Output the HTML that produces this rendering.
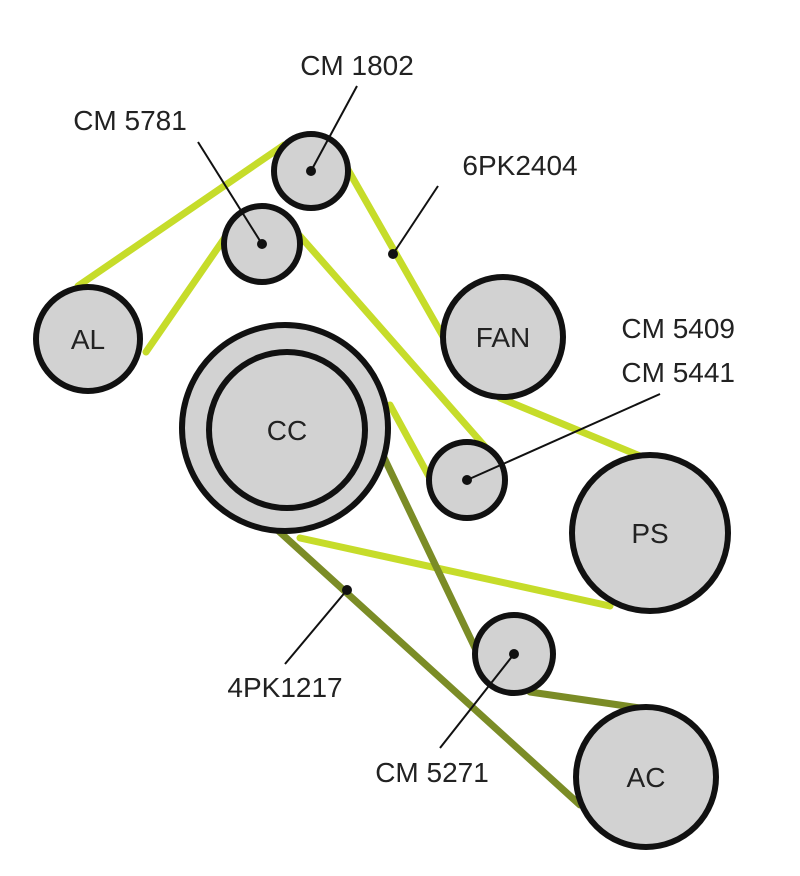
<!DOCTYPE html>
<html><head><meta charset="utf-8"><style>
html,body{margin:0;padding:0;background:#fff;width:800px;height:876px;overflow:hidden}
text{font-family:"Liberation Sans",sans-serif;fill:#222}
</style></head><body>
<svg width="800" height="876" viewBox="0 0 800 876" xmlns="http://www.w3.org/2000/svg">
<g stroke-linecap="round" fill="none">
<!-- lime belt -->
<g stroke="#c6dc2a" stroke-width="7">
<line x1="78" y1="286" x2="284" y2="145"/>
<line x1="146" y1="352" x2="226" y2="236"/>
<line x1="347" y1="168" x2="444" y2="338"/>
<line x1="500" y1="398" x2="640" y2="456"/>
<line x1="300" y1="236" x2="488" y2="450"/>
<line x1="390" y1="405" x2="432" y2="482"/>
<line x1="300" y1="538" x2="610" y2="606"/>
</g>
<!-- olive belt -->
<g stroke="#7b8c26" stroke-width="7">
<line x1="366" y1="420" x2="476" y2="650"/>
<line x1="250" y1="505" x2="580" y2="805"/>
<line x1="530" y1="692" x2="640" y2="708"/>
</g>
</g>
<!-- pulleys -->
<g fill="#d2d2d2" stroke="#111" stroke-width="6">
<circle cx="311" cy="171" r="37"/>
<circle cx="262" cy="244" r="38"/>
<circle cx="88" cy="339" r="52"/>
<circle cx="503" cy="337" r="60"/>
<circle cx="285" cy="428" r="103"/>
<circle cx="287" cy="430" r="78"/>
<circle cx="467" cy="480" r="38"/>
<circle cx="650" cy="533" r="78"/>
<circle cx="514" cy="654" r="39"/>
<circle cx="646" cy="777" r="70"/>
</g>
<!-- leaders -->
<g stroke="#111" stroke-width="2">
<line x1="311" y1="171" x2="357" y2="86"/>
<line x1="262" y1="244" x2="198" y2="142"/>
<line x1="393" y1="254" x2="438" y2="186"/>
<line x1="467" y1="480" x2="660" y2="394"/>
<line x1="347" y1="590" x2="285" y2="664"/>
<line x1="514" y1="654" x2="440" y2="748"/>
</g>
<g fill="#111">
<circle cx="311" cy="171" r="5"/><circle cx="262" cy="244" r="5"/>
<circle cx="393" cy="254" r="5"/><circle cx="467" cy="480" r="5"/>
<circle cx="347" cy="590" r="5"/><circle cx="514" cy="654" r="5"/>
</g>
<g font-size="28">
<text x="88" y="349" text-anchor="middle">AL</text>
<text x="503" y="347" text-anchor="middle">FAN</text>
<text x="287" y="440" text-anchor="middle">CC</text>
<text x="650" y="543" text-anchor="middle">PS</text>
<text x="646" y="787" text-anchor="middle">AC</text>
<text x="357" y="75" text-anchor="middle">CM 1802</text>
<text x="130" y="130" text-anchor="middle">CM 5781</text>
<text x="520" y="175" text-anchor="middle">6PK2404</text>
<text x="735" y="338" text-anchor="end">CM 5409</text>
<text x="735" y="382" text-anchor="end">CM 5441</text>
<text x="285" y="697" text-anchor="middle">4PK1217</text>
<text x="432" y="782" text-anchor="middle">CM 5271</text>
</g>
</svg>
</body></html>
